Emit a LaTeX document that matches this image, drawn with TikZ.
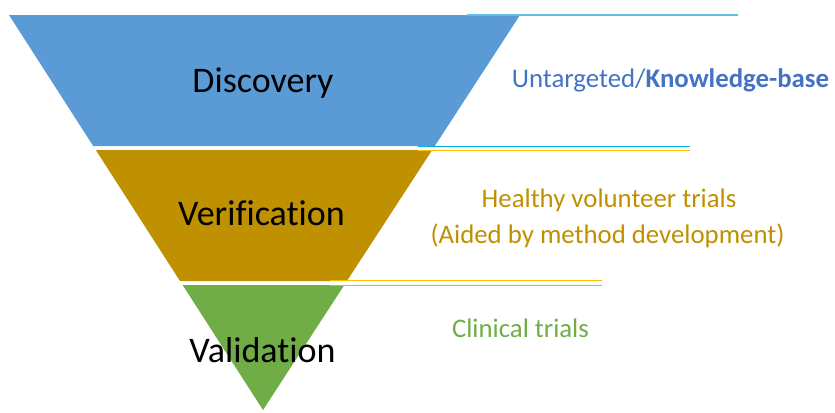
\documentclass[tikz,border=0pt]{standalone}
\usepackage{fontspec}
\setmainfont{Carlito}[Ligatures={NoCommon}]
\definecolor{bandblue}{HTML}{5B9BD5}
\definecolor{bandgold}{HTML}{BF9000}
\definecolor{bandgreen}{HTML}{70AD47}
\definecolor{txtblue}{HTML}{4472C4}
\definecolor{txtgold}{HTML}{BF9000}
\definecolor{txtgreen}{HTML}{70AD47}
\definecolor{lineblue}{HTML}{5BC0EB}
\definecolor{linecyan}{HTML}{00B0F0}
\definecolor{lineyellow}{HTML}{FFC000}
\definecolor{linegreen}{HTML}{92D050}
\tikzset{
  stage/.style={anchor=base, inner sep=0pt, font=\fontsize{36bp}{40bp}\selectfont, text=black},
  note/.style={anchor=base, inner sep=0pt, font=\fontsize{26.8bp}{31bp}\selectfont},
  rule/.style={line width=1.8bp},
}
\begin{document}
\begin{tikzpicture}[x=1bp,y=-1bp]
  \useasboundingbox (0,0) rectangle (835,412);
  % funnel bands
  \fill[bandblue]  (9,15) -- (520,15) -- (434.8,146) -- (93.2,146) -- cycle;
  \fill[bandgold]  (95.8,150) -- (432.2,150) -- (346.9,281) -- (180.0,281) -- cycle;
  \fill[bandgreen] (182.6,285) -- (344.3,285) -- (263,410) -- cycle;
  % guide rules to the right of the funnel
  \draw[rule, lineblue]   (467,15) -- (738,15);
  \draw[rule, linecyan]   (418,146.5) -- (690,146.5);
  \draw[rule, lineyellow] (418,150.5) -- (690,150.5);
  \draw[rule, lineyellow] (330,280.5) -- (602,280.5);
  \draw[rule, linegreen]  (330,285.5) -- (602,285.5);
  % stage names
  \node[stage] (disc) at (263,92) {Discovery};
  \node[stage] (veri) at (261.5,225) {Verification};
  \node[stage] (vali) at (262.5,362) {Validation};
  % descriptions
  \node[note, text=txtblue] (untg) at (670.5,87) {Untargeted/\textbf{Knowledge-base}};
  \node[note, text=txtgold] (hvt) at (609,207) {Healthy volunteer trials};
  \node[note, text=txtgold] (aid) at (607.5,243) {(Aided by method development)};
  \node[note, text=txtgreen] (clin) at (520.5,337) {Clinical trials};
\end{tikzpicture}
\end{document}
